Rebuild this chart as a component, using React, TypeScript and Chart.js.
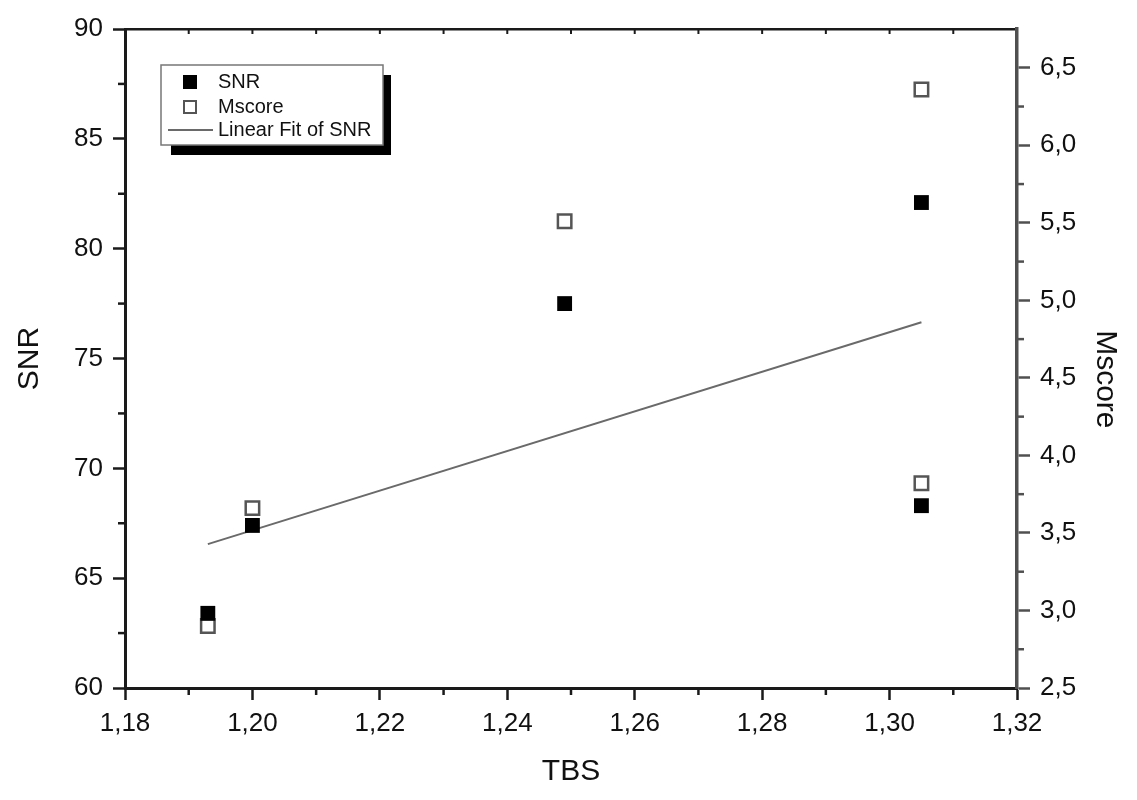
import React, { useEffect, useRef } from "react";
import { Chart, registerables } from "chart.js";

Chart.register(...registerables);

const tbs = [1.193, 1.2, 1.249, 1.305, 1.305];
const snrValues = [63.4, 67.4, 77.5, 82.1, 68.3];
const mscoreValues = [2.9, 3.66, 5.51, 6.36, 3.82];
const fitX = [1.193, 1.305];
const fitY = [66.55, 76.65];

const xTicks = [1.18, 1.2, 1.22, 1.24, 1.26, 1.28, 1.3, 1.32];
const snrTicks = [60, 65, 70, 75, 80, 85, 90];
const mscoreTicks = [2.5, 3.0, 3.5, 4.0, 4.5, 5.0, 5.5, 6.0, 6.5];

const FONT = '"Liberation Sans", Arial, Helvetica, sans-serif';
const AXIS_DARK = "#1a1a1a";
const AXIS_GRAY = "#505050";
const TEXT = "#111";

const comma = (v: number, d: number) => v.toFixed(d).replace(".", ",");

const mids = (arr: number[]) => arr.slice(1).map((v, i) => (v + arr[i]) / 2);

const minorTicksPlugin = {
  id: "minorTicks",
  afterDraw(chart: any) {
    const ctx = chart.ctx;
    const { left, right, top, bottom } = chart.chartArea;
    const x = chart.scales.x;
    const y = chart.scales.y;
    const y1 = chart.scales.y1;
    ctx.save();
    ctx.lineCap = "butt";
    ctx.strokeStyle = AXIS_DARK;
    ctx.lineWidth = 2.5;
    mids(xTicks).forEach((v) => {
      const px = x.getPixelForValue(v);
      ctx.beginPath();
      ctx.moveTo(px, bottom);
      ctx.lineTo(px, bottom + 7);
      ctx.stroke();
    });
    ctx.lineWidth = 2;
    [...xTicks, ...mids(xTicks)].forEach((v) => {
      const px = x.getPixelForValue(v);
      if (px <= left + 2 || px >= right - 2) return;
      ctx.beginPath();
      ctx.moveTo(px, top);
      ctx.lineTo(px, top + 5);
      ctx.stroke();
    });
    ctx.lineWidth = 2.5;
    mids(snrTicks).forEach((v) => {
      const py = y.getPixelForValue(v);
      ctx.beginPath();
      ctx.moveTo(left, py);
      ctx.lineTo(left - 7, py);
      ctx.stroke();
    });
    ctx.strokeStyle = AXIS_GRAY;
    mids(mscoreTicks).forEach((v) => {
      const py = y1.getPixelForValue(v);
      ctx.beginPath();
      ctx.moveTo(right, py);
      ctx.lineTo(right + 7, py);
      ctx.stroke();
    });
    ctx.restore();
  },
};

const legendPlugin = {
  id: "boxLegend",
  afterDraw(chart: any) {
    const ctx = chart.ctx;
    const { left, top } = chart.chartArea;
    const bx = left + 36;
    const by = top + 36;
    const bw = 222;
    const bh = 80;
    ctx.save();
    ctx.fillStyle = "#000";
    ctx.fillRect(bx + 10, by + 10, bw - 2, bh);
    ctx.fillStyle = "#fff";
    ctx.fillRect(bx, by, bw, bh);
    ctx.strokeStyle = "#777";
    ctx.lineWidth = 1.5;
    ctx.strokeRect(bx, by, bw, bh);

    const ds = chart.data.datasets;
    const markerX = bx + 29;
    const textX = bx + 57;
    const rows = [by + 17, by + 42, by + 65];
    ctx.font = `20px ${FONT}`;
    ctx.textBaseline = "middle";
    ctx.textAlign = "left";
    ctx.fillStyle = ds[0].pointBackgroundColor;
    ctx.fillRect(markerX - 7, rows[0] - 7, 14, 14);
    ctx.fillStyle = TEXT;
    ctx.fillText(ds[0].label, textX, rows[0]);
    ctx.fillStyle = "#fff";
    ctx.fillRect(markerX - 6, rows[1] - 6, 12, 12);
    ctx.strokeStyle = ds[1].pointBorderColor;
    ctx.lineWidth = 2;
    ctx.strokeRect(markerX - 6, rows[1] - 6, 12, 12);
    ctx.fillStyle = TEXT;
    ctx.fillText(ds[1].label, textX, rows[1]);
    ctx.strokeStyle = ds[2].borderColor;
    ctx.lineWidth = 2;
    ctx.beginPath();
    ctx.moveTo(bx + 7, rows[2]);
    ctx.lineTo(bx + 52, rows[2]);
    ctx.stroke();
    ctx.fillStyle = TEXT;
    ctx.fillText(ds[2].label, textX, rows[2]);
    ctx.restore();
  },
};

export default function App() {
  const canvasRef = useRef<HTMLCanvasElement | null>(null);

  useEffect(() => {
    if (!canvasRef.current) return;
    const tickFont = { family: FONT, size: 26 };
    const titleFont = { family: FONT, size: 30 };
    const chart = new Chart(canvasRef.current, {
      type: "scatter",
      data: {
        datasets: [
          {
            label: "SNR",
            data: tbs.map((t, i) => ({ x: t, y: snrValues[i] })),
            yAxisID: "y",
            pointStyle: "rect",
            pointRadius: 10.5,
            pointBackgroundColor: "#000",
            pointBorderColor: "#000",
            pointBorderWidth: 0,
            order: 0,
          },
          {
            label: "Mscore",
            data: tbs.map((t, i) => ({ x: t, y: mscoreValues[i] })),
            yAxisID: "y1",
            pointStyle: "rect",
            pointRadius: 9.5,
            pointBackgroundColor: "#fff",
            pointBorderColor: "#555",
            pointBorderWidth: 2.5,
            order: 1,
          },
          {
            label: "Linear Fit of SNR",
            data: fitX.map((t, i) => ({ x: t, y: fitY[i] })),
            yAxisID: "y",
            showLine: true,
            borderColor: "#6a6a6a",
            borderWidth: 2,
            pointRadius: 0,
            order: 2,
          },
        ],
      } as any,
      options: {
        animation: false,
        responsive: true,
        maintainAspectRatio: false,
        devicePixelRatio: 1,
        layout: { padding: 0 },
        plugins: {
          legend: { display: false },
          tooltip: { enabled: false },
        },
        scales: {
          x: {
            type: "linear",
            position: "bottom",
            min: 1.18,
            max: 1.32,
            afterBuildTicks: (s: any) => {
              s.ticks = xTicks.map((v) => ({ value: v }));
            },
            afterFit: (s: any) => {
              s.height = 112;
            },
            ticks: {
              autoSkip: false,
              maxRotation: 0,
              padding: 8,
              color: TEXT,
              font: tickFont,
              callback: (v: any) => comma(Number(v), 2),
            },
            grid: {
              display: true,
              drawOnChartArea: false,
              drawTicks: true,
              tickLength: 12,
              tickWidth: 2.5,
              tickColor: AXIS_DARK,
            },
            border: { display: true, color: AXIS_DARK, width: 3 },
            title: {
              display: true,
              text: "TBS",
              color: TEXT,
              font: titleFont,
              padding: { top: 0, bottom: 10 },
            },
          },
          x2: {
            type: "linear",
            position: "top",
            min: 1.18,
            max: 1.32,
            afterFit: (s: any) => {
              s.height = 29;
            },
            ticks: { display: false },
            grid: { display: false, drawTicks: false },
            border: { display: true, color: AXIS_DARK, width: 2.5 },
          },
          y: {
            type: "linear",
            position: "left",
            min: 60,
            max: 90,
            afterBuildTicks: (s: any) => {
              s.ticks = snrTicks.map((v) => ({ value: v }));
            },
            afterFit: (s: any) => {
              s.width = 125;
            },
            ticks: {
              autoSkip: false,
              padding: 10,
              color: TEXT,
              font: tickFont,
              callback: (v: any) => String(v),
            },
            grid: {
              display: true,
              drawOnChartArea: false,
              drawTicks: true,
              tickLength: 12,
              tickWidth: 2.5,
              tickColor: AXIS_DARK,
            },
            border: { display: true, color: AXIS_DARK, width: 3 },
            title: {
              display: true,
              text: "SNR",
              color: TEXT,
              font: titleFont,
              padding: { top: 12, bottom: 0 },
            },
          },
          y1: {
            type: "linear",
            position: "right",
            min: 2.5,
            max: 6.75,
            afterBuildTicks: (s: any) => {
              s.ticks = mscoreTicks.map((v) => ({ value: v }));
            },
            afterFit: (s: any) => {
              s.width = 120;
            },
            ticks: {
              autoSkip: false,
              padding: 10,
              color: TEXT,
              font: tickFont,
              callback: (v: any) => comma(Number(v), 1),
            },
            grid: {
              display: true,
              drawOnChartArea: false,
              drawTicks: true,
              tickLength: 13,
              tickWidth: 2.5,
              tickColor: AXIS_GRAY,
            },
            border: { display: true, color: AXIS_GRAY, width: 3.5 },
            title: {
              display: true,
              text: "\u00a0\u00a0\u00a0\u00a0\u00a0Mscore",
              color: TEXT,
              font: titleFont,
              padding: { top: 14, bottom: 0 },
            },
          },
        },
      } as any,
      plugins: [minorTicksPlugin, legendPlugin],
    });
    return () => chart.destroy();
  }, []);

  return (
    <div
      style={{
        position: "fixed",
        left: 0,
        top: 0,
        width: 1137,
        height: 800,
        background: "#fff",
      }}
    >
      <canvas ref={canvasRef} />
    </div>
  );
}
